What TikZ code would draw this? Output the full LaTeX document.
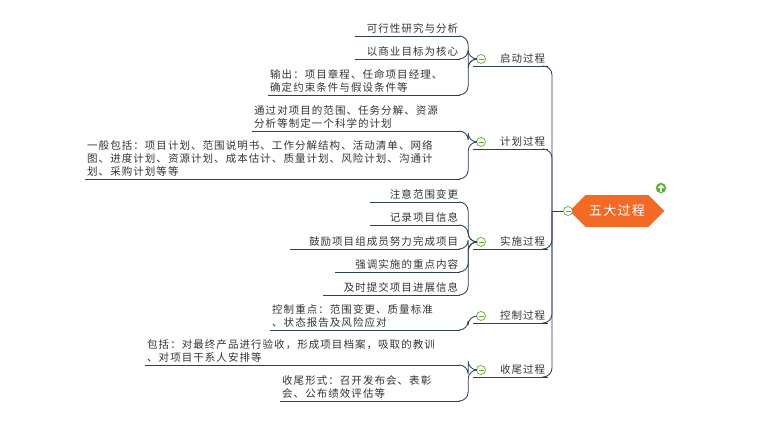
\documentclass[tikz,border=0pt]{standalone}
\usepackage{fontspec}
\setmainfont[LetterSpace=10]{Noto Sans CJK SC}
\usetikzlibrary{positioning,calc,shapes.symbols}
\definecolor{linec}{HTML}{2E3F55}
\definecolor{txtc}{HTML}{333333}
\definecolor{rootc}{HTML}{F26A26}
\definecolor{minusc}{HTML}{5DAE2F}
\tikzset{
  leaf/.style={anchor=south west,inner xsep=2pt,inner ysep=2pt,text=txtc,font=\fontsize{10.5}{13}\selectfont},
  branch/.style={anchor=south west,inner xsep=3pt,inner ysep=2pt,text=txtc,align=right,font=\fontsize{10.5}{13}\selectfont},
  link/.style={draw=linec,line width=0.8pt,rounded corners=9pt},
  minus/.style={circle,draw=minusc,fill=white,line width=0.7pt,minimum size=9pt,inner sep=0pt,
    path picture={\draw[minusc,line width=0.8pt] ($(path picture bounding box.west)+(2pt,0)$) -- ($(path picture bounding box.east)+(-2pt,0)$);}}
}
\begin{document}
\begin{tikzpicture}[x=1pt,y=-1pt]
\useasboundingbox (0,0) rectangle (760,423);

% root
\draw (617,211) node [signal,signal to=west and east,fill=rootc,minimum width=90,minimum height=32,text=white,font=\fontsize{13}{15}\selectfont] (root) {五大过程};
\draw (661,188) node [circle,fill=minusc,draw=white,minimum size=11pt,inner sep=0pt] (up) {};
\fill[white] ($(up)+(0,-3.5)$) -- ($(up)+(3.5,0)$) -- ($(up)+(-3.5,0)$) -- cycle;
\fill[white] ($(up)+(-1.4,0)$) rectangle ($(up)+(1.4,3.5)$);
\draw (568,211) node [minus] (rm) {};
\coordinate (trunk) at (552,211);
\draw [link] (rm.west) -- (trunk);

% branches
\draw (473,66) node [branch,text width=69] (qidong) {启动过程};
\draw (473,149) node [branch,text width=69] (jihua) {计划过程};
\draw (473,249) node [branch,text width=69] (shishi) {实施过程};
\draw (473,323) node [branch,text width=69] (kongzhi) {控制过程};
\draw (473,377) node [branch,text width=69] (shouwei) {收尾过程};
\foreach \b in {qidong,jihua,shishi,kongzhi,shouwei}{
  \draw [link] (\b.south west) -- (\b.south east);
  \draw [link] (trunk) |- ($(\b.south east)+(-6,0)$);
  \draw ($(\b.west)+(8,0)$) node [minus] (m\b) {};
}

% leaves
\draw (355,36) node [leaf,text width=101,align=right] (q1) {可行性研究与分析};
\draw (355,59) node [leaf,text width=101,align=right] (q2) {以商业目标为核心};
\draw (268,95) node [leaf,text width=188,align=left] (q3) {输出：项目章程、任命项目经理、\\确定约束条件与假设条件等};
\draw (252,131) node [leaf,text width=204,align=left] (j1) {通过对项目的范围、任务分解、资源\\分析等制定一个科学的计划};
\draw (85,179) node [leaf,text width=371,align=left] (j2) {一般包括：项目计划、范围说明书、工作分解结构、活动清单、网络\\图、进度计划、资源计划、成本估计、质量计划、风险计划、沟通计\\划、采购计划等等};
\draw (370,202) node [leaf,text width=86,align=right] (s1) {注意范围变更};
\draw (370,225) node [leaf,text width=86,align=right] (s2) {记录项目信息};
\draw (290,249) node [leaf,text width=166,align=right] (s3) {鼓励项目组成员努力完成项目};
\draw (335,272) node [leaf,text width=121,align=right] (s4) {强调实施的重点内容};
\draw (323,295) node [leaf,text width=133,align=right] (s5) {及时提交项目进展信息};
\draw (270,330) node [leaf,text width=186,align=left] (k1) {控制重点：范围变更、质量标准\\、状态报告及风险应对};
\draw (145,365) node [leaf,text width=311,align=left] (w1) {包括：对最终产品进行验收，形成项目档案，吸取的教训\\、对项目干系人安排等};
\draw (280,401) node [leaf,text width=176,align=left] (w2) {收尾形式：召开发布会、表彰\\会、公布绩效评估等};

\foreach \l/\b in {q1/qidong,q2/qidong,q3/qidong,j1/jihua,j2/jihua,s1/shishi,s2/shishi,s3/shishi,s4/shishi,s5/shishi,k1/kongzhi,w1/shouwei,w2/shouwei}{
  \draw [link] (\l.south west) -- (\l.south east);
  \draw [link] (m\b.west) -- ++(-8,0) |- (\l.south east);
}
\end{tikzpicture}
\end{document}
